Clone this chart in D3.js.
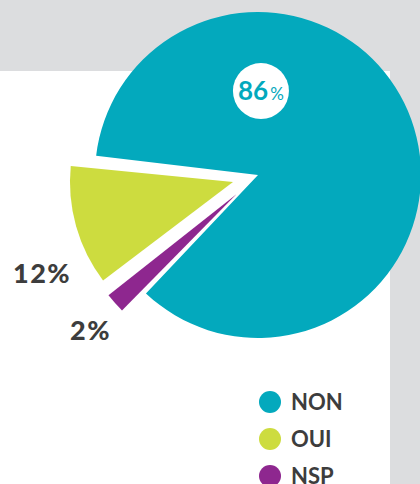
<!DOCTYPE html>
<html>
<head>
<meta charset="utf-8">
<script src="https://cdn.jsdelivr.net/npm/d3@7"></script>
<style>
  body { margin: 0; background: #ffffff; }
  svg { display: block; }
</style>
</head>
<body>
<div id="chart"></div>
<script>
// data
var categories = ["NON", "OUI", "NSP"];
var values = [86, 12, 2];
var labels = ["86%", "12%", "2%"];

var colors = ["#03a9bd", "#cddc3f", "#8e278f"];

var w = 420, h = 484;
var cx = 258, cy = 175, radius = 163;

var svg = d3.select("#chart").append("svg")
    .attr("width", w)
    .attr("height", h);

// grey frame + white panel
svg.append("rect")
    .attr("width", w)
    .attr("height", h)
    .style("fill", "#dcdddf");

svg.append("rect")
    .attr("x", 0)
    .attr("y", 71)
    .attr("width", 390)
    .attr("height", h - 71)
    .style("fill", "#ffffff");

var rad = d => d * Math.PI / 180;

var data = categories.map((c, i) => ({ name: c, value: values[i], color: colors[i], label: labels[i] }));

// counter clockwise so the small slices sit in the lower left gap
var pie = d3.pie()
    .sort(null)
    .value(d => d.value)
    .startAngle(rad(224))
    .endAngle(rad(224 - 360))
    .padAngle(0.02);

var arc = d3.arc()
    .innerRadius(0)
    .outerRadius(radius);

var explode = [0, 26, 29]; // pull-out distance per slice

var g = svg.append("g")
    .attr("transform", `translate(${cx},${cy})`);

g.selectAll(".slice")
    .data(pie(data))
    .enter()
    .append("path")
    .attr("class", "slice")
    .attr("transform", (d, i) => {
        var p = d3.pointRadial((d.startAngle + d.endAngle) / 2, explode[i]);
        return `translate(${p[0]},${p[1]})`;
    })
    .attr("d", arc)
    .style("fill", d => d.data.color);

// big label in a white disc
var lp = d3.pointRadial(0.035, 84);
var badge = g.append("g")
    .attr("transform", `translate(${lp[0]},${lp[1]})`);

badge.append("circle")
    .attr("r", 28)
    .style("fill", "#ffffff");

var bigText = badge.append("text")
    .attr("text-anchor", "middle")
    .attr("y", 9)
    .style("font-family", "Lato, 'Open Sans', sans-serif")
    .style("fill", colors[0]);

bigText.append("tspan")
    .style("font-size", "26px")
    .style("font-weight", "700")
    .text(values[0]);

bigText.append("tspan")
    .attr("dx", 2)
    .style("font-size", "17px")
    .style("font-weight", "400")
    .text("%");

// outside labels for the small slices
var outside = [
    { text: labels[1], x: 13, y: 283 },
    { text: labels[2], x: 70, y: 340 }
];

svg.selectAll(".out-label")
    .data(outside)
    .enter()
    .append("text")
    .attr("class", "out-label")
    .attr("x", d => d.x)
    .attr("y", d => d.y)
    .style("font-family", "Lato, 'Open Sans', sans-serif")
    .style("font-weight", "900")
    .style("font-size", "27px")
    .style("letter-spacing", "1.5px")
    .style("fill", "#3d3d3d")
    .text(d => d.text);

// legend
var legend = svg.append("g")
    .attr("class", "legend")
    .attr("transform", "translate(270, 402)");

var legendItem = legend.selectAll(".legend-item")
    .data(data)
    .enter().append("g")
    .attr("class", "legend-item")
    .attr("transform", (d, i) => `translate(0, ${i * 37})`);

legendItem.append("circle")
    .attr("r", 11)
    .style("fill", d => d.color);

legendItem.append("text")
    .attr("x", 21)
    .attr("y", 8)
    .style("font-family", "Lato, 'Open Sans', sans-serif")
    .style("font-weight", "700")
    .style("font-size", "22px")
    .style("fill", "#3d3d3d")
    .text(d => d.name);
</script>
</body>
</html>
